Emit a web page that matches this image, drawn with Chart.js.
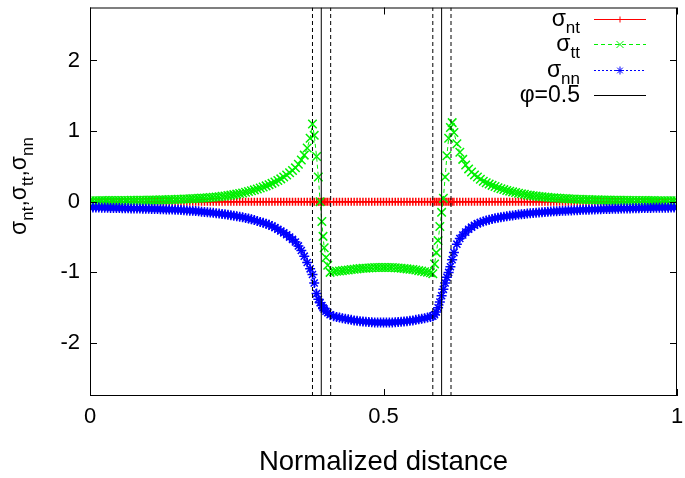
<!DOCTYPE html>
<html>
<head>
<meta charset="utf-8">
<script src="https://cdn.jsdelivr.net/npm/chart.js@4.4.0/dist/chart.umd.min.js"></script>
<style>
  html, body { margin: 0; padding: 0; background: #fff; }
</style>
</head>
<body>
<canvas id="chart" width="685" height="478"></canvas>
<script>
// normalized distance (finer mesh across the two interfaces)
var xs = [
  0.000, 0.005, 0.010, 0.015, 0.020, 0.025, 0.030, 0.035, 0.040, 0.045,
  0.050, 0.055, 0.060, 0.065, 0.070, 0.075, 0.080, 0.085, 0.090, 0.095,
  0.100, 0.105, 0.110, 0.115, 0.120, 0.125, 0.130, 0.135, 0.140, 0.145,
  0.150, 0.155, 0.160, 0.165, 0.170, 0.175, 0.180, 0.185, 0.190, 0.195,
  0.200, 0.205, 0.210, 0.215, 0.220, 0.225, 0.230, 0.235, 0.240, 0.245,
  0.250, 0.255, 0.260, 0.265, 0.270, 0.275, 0.280, 0.285, 0.290, 0.295,
  0.300, 0.305, 0.310, 0.315, 0.320, 0.325, 0.330, 0.335, 0.340, 0.345,
  0.350, 0.355, 0.360, 0.365, 0.370, 0.375, 0.379,
  0.382, 0.386, 0.389, 0.392, 0.395, 0.397, 0.399, 0.402, 0.405, 0.409,
  0.415, 0.420, 0.425, 0.430, 0.435, 0.440, 0.445, 0.450, 0.455, 0.460,
  0.465, 0.470, 0.475, 0.480, 0.485, 0.490, 0.495, 0.500, 0.505, 0.510,
  0.515, 0.520, 0.525, 0.530, 0.535, 0.540, 0.545, 0.550, 0.555, 0.560,
  0.565, 0.570, 0.575, 0.580,
  0.584, 0.587, 0.590, 0.593, 0.596, 0.599, 0.602, 0.605, 0.608, 0.611, 0.614,
  0.617, 0.620, 0.625, 0.630, 0.635, 0.640, 0.645, 0.650, 0.655, 0.660,
  0.665, 0.670, 0.675, 0.680, 0.685, 0.690, 0.695, 0.700, 0.705, 0.710,
  0.715, 0.720, 0.725, 0.730, 0.735, 0.740, 0.745, 0.750, 0.755, 0.760,
  0.765, 0.770, 0.775, 0.780, 0.785, 0.790, 0.795, 0.800, 0.805, 0.810,
  0.815, 0.820, 0.825, 0.830, 0.835, 0.840, 0.845, 0.850, 0.855, 0.860,
  0.865, 0.870, 0.875, 0.880, 0.885, 0.890, 0.895, 0.900, 0.905, 0.910,
  0.915, 0.920, 0.925, 0.930, 0.935, 0.940, 0.945, 0.950, 0.955, 0.960,
  0.965, 0.970, 0.975, 0.980, 0.985, 0.990, 0.995, 1.000
];

var sigmaNT = [
  0, 0, 0, 0, 0, 0, 0, 0, 0, 0,
  0, 0, 0, 0, 0, 0, 0, 0, 0, 0,
  0, 0, 0, 0, 0, 0, 0, 0, 0, 0,
  0, 0, 0, 0, 0, 0, 0, 0, 0, 0,
  0, 0, 0, 0, 0, 0, 0, 0, 0, 0,
  0, 0, 0, 0, 0, 0, 0, 0, 0, 0,
  0, 0, 0, 0, 0, 0, 0, 0, 0, 0,
  0, 0, 0, 0, 0, 0, 0,
  0, 0, 0, 0, 0, 0, 0, 0, 0, 0,
  0, 0, 0, 0, 0, 0, 0, 0, 0, 0,
  0, 0, 0, 0, 0, 0, 0, 0, 0, 0,
  0, 0, 0, 0, 0, 0, 0, 0, 0, 0,
  0, 0, 0, 0,
  0, 0, 0, 0, 0, 0, 0, 0, 0, 0, 0,
  0, 0, 0, 0, 0, 0, 0, 0, 0, 0,
  0, 0, 0, 0, 0, 0, 0, 0, 0, 0,
  0, 0, 0, 0, 0, 0, 0, 0, 0, 0,
  0, 0, 0, 0, 0, 0, 0, 0, 0, 0,
  0, 0, 0, 0, 0, 0, 0, 0, 0, 0,
  0, 0, 0, 0, 0, 0, 0, 0, 0, 0,
  0, 0, 0, 0, 0, 0, 0, 0, 0, 0,
  0, 0, 0, 0, 0, 0, 0, 0
];

var sigmaTT = [
  0.015, 0.015, 0.015, 0.015, 0.016, 0.016, 0.016, 0.017, 0.017, 0.017,
  0.018, 0.018, 0.019, 0.019, 0.020, 0.020, 0.021, 0.021, 0.022, 0.022,
  0.023, 0.024, 0.025, 0.026, 0.027, 0.028, 0.029, 0.030, 0.032, 0.033,
  0.035, 0.036, 0.038, 0.040, 0.042, 0.044, 0.046, 0.048, 0.051, 0.054,
  0.057, 0.060, 0.064, 0.068, 0.072, 0.077, 0.082, 0.088, 0.094, 0.101,
  0.108, 0.116, 0.125, 0.135, 0.145, 0.156, 0.168, 0.181, 0.195, 0.210,
  0.225, 0.242, 0.260, 0.280, 0.300, 0.324, 0.350, 0.378, 0.410, 0.443,
  0.480, 0.530, 0.590, 0.660, 0.760, 0.900, 1.100,
  0.94, 0.64, 0.35, 0.00, -0.28, -0.49, -0.65, -0.79, -0.90, -1.00,
  -0.990, -0.985, -0.980, -0.975, -0.970, -0.965, -0.960, -0.955, -0.950, -0.945,
  -0.942, -0.940, -0.937, -0.935, -0.932, -0.930, -0.930, -0.930, -0.930, -0.930,
  -0.932, -0.935, -0.937, -0.940, -0.945, -0.950, -0.955, -0.960, -0.967, -0.975,
  -0.982, -0.990, -0.997, -1.005,
  -1.02, -0.88, -0.72, -0.55, -0.35, -0.15, 0.05, 0.35, 0.65, 0.90, 1.05,
  1.120, 0.980, 0.820, 0.700, 0.600, 0.520, 0.465, 0.420, 0.380, 0.350,
  0.318, 0.290, 0.268, 0.250, 0.232, 0.215, 0.199, 0.185, 0.172, 0.160,
  0.150, 0.140, 0.130, 0.120, 0.112, 0.105, 0.097, 0.090, 0.085, 0.080,
  0.075, 0.070, 0.066, 0.062, 0.058, 0.055, 0.052, 0.049, 0.046, 0.044,
  0.042, 0.040, 0.038, 0.036, 0.034, 0.033, 0.031, 0.030, 0.029, 0.028,
  0.027, 0.026, 0.025, 0.024, 0.023, 0.022, 0.0215, 0.021, 0.0205, 0.020,
  0.0195, 0.019, 0.0185, 0.018, 0.0175, 0.017, 0.0165, 0.016, 0.016, 0.016,
  0.0155, 0.015, 0.015, 0.015, 0.0145, 0.014, 0.014, 0.014
];

var sigmaNN = [
  -0.080, -0.081, -0.082, -0.083, -0.084, -0.085, -0.086, -0.087, -0.088, -0.089,
  -0.090, -0.091, -0.092, -0.093, -0.094, -0.095, -0.096, -0.097, -0.098, -0.099,
  -0.100, -0.101, -0.102, -0.103, -0.105, -0.106, -0.108, -0.109, -0.111, -0.113,
  -0.115, -0.117, -0.120, -0.123, -0.126, -0.129, -0.132, -0.136, -0.140, -0.144,
  -0.148, -0.152, -0.157, -0.162, -0.167, -0.172, -0.178, -0.184, -0.190, -0.197,
  -0.205, -0.212, -0.220, -0.229, -0.238, -0.249, -0.260, -0.272, -0.285, -0.297,
  -0.310, -0.327, -0.345, -0.366, -0.390, -0.414, -0.440, -0.468, -0.500, -0.533,
  -0.570, -0.625, -0.690, -0.770, -0.860, -0.950, -1.030,
  -1.15, -1.30, -1.38, -1.43, -1.47, -1.50, -1.52, -1.55, -1.57, -1.60,
  -1.620, -1.630, -1.640, -1.650, -1.657, -1.665, -1.672, -1.680, -1.685, -1.690,
  -1.695, -1.700, -1.702, -1.705, -1.708, -1.710, -1.710, -1.710, -1.710, -1.710,
  -1.708, -1.705, -1.702, -1.700, -1.695, -1.690, -1.685, -1.680, -1.672, -1.665,
  -1.657, -1.650, -1.640, -1.630,
  -1.62, -1.60, -1.56, -1.50, -1.42, -1.33, -1.24, -1.15, -1.07, -1.00, -0.92,
  -0.820, -0.720, -0.600, -0.520, -0.470, -0.430, -0.390, -0.360, -0.333, -0.310,
  -0.294, -0.280, -0.267, -0.255, -0.245, -0.235, -0.226, -0.218, -0.211, -0.205,
  -0.199, -0.193, -0.187, -0.182, -0.177, -0.172, -0.167, -0.163, -0.159, -0.155,
  -0.151, -0.148, -0.145, -0.142, -0.139, -0.136, -0.133, -0.131, -0.129, -0.127,
  -0.125, -0.123, -0.121, -0.119, -0.117, -0.115, -0.113, -0.112, -0.110, -0.109,
  -0.107, -0.106, -0.104, -0.103, -0.101, -0.100, -0.099, -0.098, -0.097, -0.096,
  -0.095, -0.094, -0.093, -0.092, -0.091, -0.090, -0.089, -0.088, -0.087, -0.086,
  -0.0855, -0.085, -0.0845, -0.084, -0.0835, -0.083, -0.0825, -0.082
];

// interface position (phi = 0.5) and the edges of the diffuse interface
var phiLines = [0.394, 0.599];
var bandLines = [0.379, 0.410, 0.584, 0.615];

var xTicks = [0, 0.5, 1];
var yTicks = [-2, -1, 0, 1, 2];
var yMin = -2.75, yMax = 2.75;

var FONT = "'Liberation Sans', Arial, sans-serif";

function pts(vals) {
  return xs.map(function (x, i) { return { x: x, y: vals[i] }; });
}
function vline(x) {
  return [{ x: x, y: yMin }, { x: x, y: yMax }];
}

var datasets = [
  {
    label: "nt", data: pts(sigmaNT), borderColor: "#ff0000", backgroundColor: "#ff0000",
    borderWidth: 1, pointStyle: "cross", pointRadius: 4, pointBorderWidth: 1.5, order: 5
  },
  {
    label: "tt", data: pts(sigmaTT), borderColor: "#00f000", backgroundColor: "#00f000",
    borderWidth: 1, borderDash: [4, 3], pointStyle: "crossRot", pointRadius: 6, pointBorderWidth: 1.5, order: 4
  },
  {
    label: "nn", data: pts(sigmaNN), borderColor: "#0000ff", backgroundColor: "#0000ff",
    borderWidth: 1, borderDash: [2, 2], pointStyle: "star", pointRadius: 5, pointBorderWidth: 1.5, order: 3
  }
];
phiLines.forEach(function (x) {
  datasets.push({ label: "phi", data: vline(x), borderColor: "#000", borderWidth: 1, pointRadius: 0, order: 1 });
});
bandLines.forEach(function (x) {
  datasets.push({ label: "band", data: vline(x), borderColor: "#000", borderWidth: 1, borderDash: [4, 3], pointRadius: 0, order: 1 });
});

// text with subscripts; returns the width (only measures when draw is false)
function richText(ctx, parts, x, y, size, subSize, draw) {
  var w = 0;
  parts.forEach(function (p) {
    ctx.font = (p.sub ? subSize : size) + "px " + FONT;
    if (draw) ctx.fillText(p.t, x + w, y + (p.sub ? 7 : 0));
    w += ctx.measureText(p.t).width;
  });
  return w;
}

function noPad(s) {
  s.paddingTop = 0; s.paddingBottom = 0; s.paddingLeft = 0; s.paddingRight = 0;
}

var gnuplotLook = {
  id: "gnuplotLook",
  afterDraw: function (chart) {
    var ctx = chart.ctx, a = chart.chartArea;
    var sx = chart.scales.x, sy = chart.scales.y;
    ctx.save();
    ctx.strokeStyle = "#000";
    ctx.fillStyle = "#000";
    ctx.lineWidth = 1;
    ctx.setLineDash([]);

    // frame
    ctx.strokeRect(a.left + 0.5, a.top + 0.5, a.right - a.left - 1, a.bottom - a.top - 1);

    // inward ticks on all four sides
    ctx.beginPath();
    yTicks.forEach(function (v) {
      var py = Math.round(sy.getPixelForValue(v)) + 0.5;
      ctx.moveTo(a.left, py); ctx.lineTo(a.left + 7, py);
      ctx.moveTo(a.right, py); ctx.lineTo(a.right - 7, py);
    });
    xTicks.forEach(function (v) {
      var px = Math.round(sx.getPixelForValue(v)) + 0.5;
      ctx.moveTo(px, a.bottom); ctx.lineTo(px, a.bottom - 7);
      ctx.moveTo(px, a.top); ctx.lineTo(px, a.top + 7);
    });
    ctx.stroke();

    // x title
    ctx.font = "27.5px " + FONT;
    ctx.textAlign = "center";
    ctx.textBaseline = "alphabetic";
    ctx.fillText("Normalized distance", (a.left + a.right) / 2, 470);

    // y title, rotated
    ctx.textAlign = "left";
    var yParts = [
      { t: "\u03c3" }, { t: "nt", sub: true }, { t: "," },
      { t: "\u03c3" }, { t: "tt", sub: true }, { t: "," },
      { t: "\u03c3" }, { t: "nn", sub: true }
    ];
    ctx.save();
    ctx.translate(26, 186);
    ctx.rotate(-Math.PI / 2);
    var tw = richText(ctx, yParts, 0, 0, 23, 17, false);
    richText(ctx, yParts, -tw / 2, 0, 23, 17, true);
    ctx.restore();

    // key: text right-aligned, sample on the right
    var entries = [
      { parts: [{ t: "\u03c3" }, { t: "nt", sub: true }], ds: datasets[0] },
      { parts: [{ t: "\u03c3" }, { t: "tt", sub: true }], ds: datasets[1] },
      { parts: [{ t: "\u03c3" }, { t: "nn", sub: true }], ds: datasets[2] },
      { parts: [{ t: "\u03c6=0.5" }], ds: datasets[3] }
    ];
    entries.forEach(function (e, i) {
      var ly = Math.round(19 + i * 25.3) + 0.5;
      var w = richText(ctx, e.parts, 0, 0, 23, 17, false);
      ctx.fillStyle = "#000";
      richText(ctx, e.parts, 580 - w, ly + 6.5, 23, 17, true);
      ctx.strokeStyle = e.ds.borderColor;
      ctx.lineWidth = 1;
      ctx.setLineDash(e.ds.borderDash || []);
      ctx.beginPath();
      ctx.moveTo(594, ly);
      ctx.lineTo(646, ly);
      ctx.stroke();
      ctx.setLineDash([]);
      if (e.ds.pointRadius > 0) {
        ctx.fillStyle = e.ds.borderColor;
        Chart.helpers.drawPoint(ctx, {
          pointStyle: e.ds.pointStyle, radius: e.ds.pointRadius - 1,
          borderWidth: 1.5, rotation: 0
        }, 620, ly);
      }
    });
    ctx.restore();
  }
};

var ctx = document.getElementById("chart").getContext("2d");
var chart = new Chart(ctx, {
  type: "line",
  data: { datasets: datasets },
  options: {
    responsive: false,
    animation: false,
    layout: { padding: { top: 1, right: 8, left: 0, bottom: 0 } },
    plugins: { legend: { display: false }, tooltip: { enabled: false } },
    scales: {
      x: {
        type: "linear", min: 0, max: 1,
        grid: { display: false, drawTicks: false },
        border: { display: false },
        afterBuildTicks: function (s) { s.ticks = xTicks.map(function (v) { return { value: v }; }); },
        afterFit: function (s) { s.height = 82; noPad(s); },
        ticks: {
          padding: 8, color: "#000", maxRotation: 0,
          font: { family: FONT, size: 22 },
          callback: function (v) { return String(v); }
        }
      },
      y: {
        type: "linear", min: yMin, max: yMax,
        grid: { display: false, drawTicks: false },
        border: { display: false },
        afterBuildTicks: function (s) { s.ticks = yTicks.map(function (v) { return { value: v }; }); },
        afterFit: function (s) { s.width = 90; noPad(s); },
        ticks: {
          padding: 10, color: "#000",
          font: { family: FONT, size: 22 },
          callback: function (v) { return String(v); }
        }
      }
    }
  },
  plugins: [gnuplotLook]
});
</script>
</body>
</html>
